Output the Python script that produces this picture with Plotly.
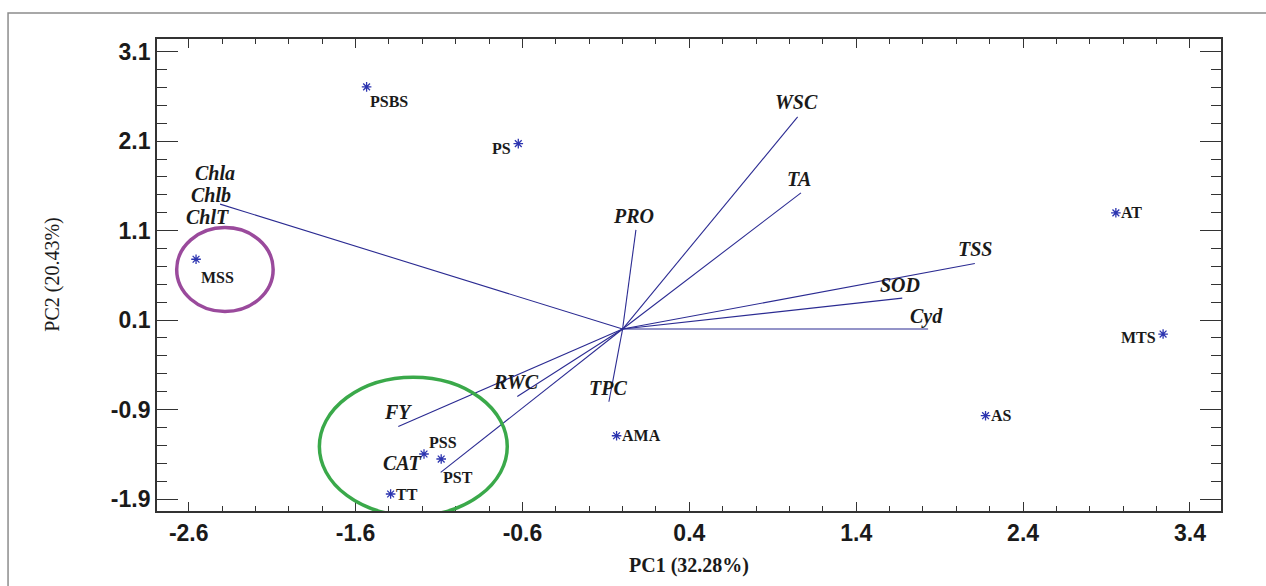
import plotly.graph_objects as go

# ---------------- data ----------------
obs_names = ["PSBS", "PS", "MSS", "AT", "MTS", "AS", "AMA", "PSS", "PST", "TT"]
obs_pc1 = [-1.534, -0.625, -2.556, 2.956, 3.239, 2.175, -0.036, -1.190, -1.087, -1.390]
obs_pc2 = [2.707, 2.073, 0.780, 1.299, -0.056, -0.969, -1.193, -1.397, -1.453, -1.844]

var_names = ["Chl", "WSC", "TA", "PRO", "TSS", "SOD", "Cyd", "TPC", "RWC", "FY", "CAT"]
var_pc1 = [-2.412, 1.049, 1.069, 0.080, 2.111, 1.676, 1.831, -0.082, -0.631, -1.344, -1.090]
var_pc2 = [1.396, 2.372, 1.522, 1.109, 0.732, 0.346, 0.000, -0.813, -0.754, -1.089, -1.603]

x_tickvals = [-2.6, -1.6, -0.6, 0.4, 1.4, 2.4, 3.4]
x_ticktext = ["-2.6", "-1.6", "-0.6", "0.4", "1.4", "2.4", "3.4"]
y_tickvals = [3.1, 2.1, 1.1, 0.1, -0.9, -1.9]
y_ticktext = ["3.1", "2.1", "1.1", "0.1", "-0.9", "-1.9"]

# group ellipses: centre x, centre y, radius x, radius y
group_cx = [-2.383, -1.254]
group_cy = [0.665, -1.313]
group_rx = [0.289, 0.563]
group_ry = [0.469, 0.774]

# ---------------- styles ----------------
LINE_C = "#2b2b92"
MARK_C = "#2c34b0"
TXT_C = "#1a1a1a"
group_colors = ["#9a4a9c", "#3aa94a"]

fig = go.Figure()

# loading vectors
for name, vx, vy in zip(var_names, var_pc1, var_pc2):
    fig.add_trace(go.Scatter(x=[0, vx], y=[0, vy], mode="lines",
                             line=dict(color=LINE_C, width=1.1),
                             hoverinfo="skip", showlegend=False))

# observations
fig.add_trace(go.Scatter(x=obs_pc1, y=obs_pc2, mode="markers",
                         marker=dict(symbol="asterisk-open", size=8, color=MARK_C,
                                     line=dict(color=MARK_C, width=1.3)),
                         text=obs_names, showlegend=False))

# label offsets (pixels) for observations: (xanchor, xshift, yshift)
obs_lab = {
    "PSBS": ("center", 22, -15),
    "PS": ("center", -17, -5),
    "MSS": ("center", 21, -18),
    "AT": ("left", 3, 0),
    "MTS": ("right", -5, -3),
    "AS": ("left", 3, 0),
    "AMA": ("left", 3, 0),
    "PSS": ("center", 19, 12),
    "PST": ("center", 17, -18),
    "TT": ("left", 3, 0),
}
annotations = []
for name, ox, oy in zip(obs_names, obs_pc1, obs_pc2):
    xa, xs, ys = obs_lab[name]
    annotations.append(dict(x=ox, y=oy, text="<b>" + name + "</b>", showarrow=False,
                            xanchor=xa, yanchor="middle", xshift=xs, yshift=ys,
                            font=dict(family="Liberation Serif", size=16, color=TXT_C)))

# variable labels (pixel offsets)
var_lab = {
    "WSC": [("WSC", -1, 15)],
    "TA": [("TA", -2, 14)],
    "PRO": [("PRO", -2, 14)],
    "TSS": [("TSS", 0, 15)],
    "SOD": [("SOD", -2, 13)],
    "Cyd": [("Cyd", -2, 13)],
    "TPC": [("TPC", -1, 14)],
    "RWC": [("RWC", -1, 14)],
    "FY": [("FY", 0, 14)],
    "CAT": [("CAT", -38, 9)],
    "Chl": [("Chla", -5, 31), ("Chlb", -9, 9), ("ChlT", -13, -13)],
}
for name, vx, vy in zip(var_names, var_pc1, var_pc2):
    for txt, xs, ys in var_lab[name]:
        annotations.append(dict(x=vx, y=vy, text="<b><i>" + txt + "</i></b>", showarrow=False,
                                xanchor="center", yanchor="middle", xshift=xs, yshift=ys,
                                font=dict(family="Liberation Serif", size=20, color=TXT_C)))

# axis titles as annotations
annotations.append(dict(x=0.5, y=-0.115, xref="paper", yref="paper", yanchor="middle",
                        text="<b>PC1 (32.28%)</b>", showarrow=False,
                        font=dict(family="Liberation Serif", size=20, color=TXT_C)))
annotations.append(dict(x=-0.099, y=0.5, xref="paper", yref="paper", xanchor="center",
                        text="PC2 (20.43%)", showarrow=False, textangle=-90,
                        font=dict(family="Liberation Serif", size=20, color=TXT_C)))

shapes = []
for cx, cy, rx, ry, col in zip(group_cx, group_cy, group_rx, group_ry, group_colors):
    shapes.append(dict(type="circle", xref="x", yref="y",
                       x0=cx - rx, x1=cx + rx, y0=cy - ry, y1=cy + ry,
                       line=dict(color=col, width=3.5), layer="above"))
# outer frame
shapes.append(dict(type="rect", xref="paper", yref="paper",
                   x0=-0.140, x1=1.06, y0=-0.2, y1=1.055,
                   line=dict(color="#8c8c8c", width=1.5)))

tickfont = dict(family="Liberation Sans", size=23, color=TXT_C, weight="bold")

fig.update_layout(
    width=1266, height=586,
    margin=dict(l=157, r=45, t=39, b=75),
    paper_bgcolor="white", plot_bgcolor="white",
    showlegend=False,
    annotations=annotations,
    shapes=shapes,
    xaxis=dict(range=[-2.79, 3.586], tickvals=x_tickvals, ticktext=x_ticktext,
               ticks="inside", ticklen=9, tickwidth=1.3, tickcolor="#333",
               showline=True, linecolor="#333", linewidth=1.8, mirror="allticks",
               showgrid=False, zeroline=False, tickfont=tickfont,
               minor=dict(tick0=-2.6, dtick=0.2, ticks="inside", ticklen=5,
                          tickwidth=1.2, tickcolor="#333", showgrid=False)),
    yaxis=dict(range=[-2.034, 3.242], tickvals=y_tickvals, ticktext=y_ticktext,
               ticks="inside", ticklen=21, tickwidth=1.3, tickcolor="#333",
               showline=True, linecolor="#333", linewidth=1.8, mirror="allticks",
               showgrid=False, zeroline=False, tickfont=tickfont,
               minor=dict(tick0=0.1, dtick=0.2, ticks="inside", ticklen=10,
                          tickwidth=1.2, tickcolor="#333", showgrid=False)),
)

fig.write_html("out.html")
